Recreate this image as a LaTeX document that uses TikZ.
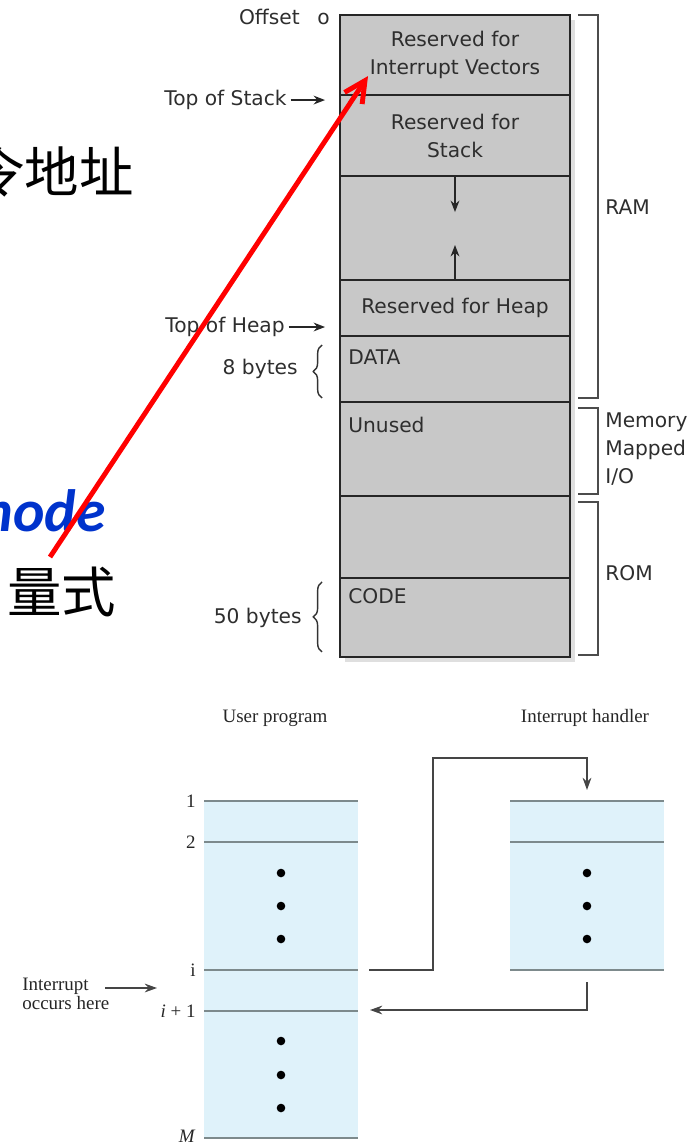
\documentclass[tikz,border=0pt]{standalone}
\usepackage{fontspec}
\setmainfont{Liberation Serif}
\newfontfamily\memfont{DejaVu Sans}
\newfontfamily\cjkfont{Noto Sans CJK SC}
\newfontfamily\slidefont{Carlito}
\usetikzlibrary{arrows.meta, positioning, calc, shadows, decorations.pathreplacing}
\definecolor{MemGray}{HTML}{C8C8C8}
\definecolor{MemText}{HTML}{2E2E2E}
\definecolor{ProgBlue}{HTML}{DFF2FA}
\definecolor{ProgLine}{HTML}{7D8A8C}
\definecolor{FlowGray}{HTML}{454545}
\definecolor{ModeBlue}{HTML}{0033CC}

\begin{document}
\begin{tikzpicture}[
    x=0.02cm, y=0.02cm,
    >=Stealth,
    memframe/.style = {rectangle, draw=black!85, fill=MemGray, line width=1.6pt, minimum width=4.6cm, outer sep=0pt, drop shadow={shadow xshift=3pt, shadow yshift=-3pt, opacity=0.25}},
    memblk/.style = {rectangle, draw=black!85, line width=1.6pt, minimum width=4.6cm, outer sep=0pt, inner sep=0pt, align=center, font=\memfont\fontsize{11.5}{16}\selectfont, text=MemText},
    memtag/.style = {anchor=north west, inner sep=0pt, font=\memfont\fontsize{11.5}{16}\selectfont, text=MemText},
    memlbl/.style = {inner sep=0pt, font=\memfont\fontsize{11.5}{16}\selectfont, text=MemText},
    bracket/.style = {draw=black!70, line width=0.9pt},
    ptr/.style = {draw=black!85, line width=0.9pt, -{Stealth[length=6.5pt, width=5pt]}},
    sizebrace/.style = {decorate, decoration={brace, amplitude=5pt}, draw=black!80, line width=0.8pt},
    cjk/.style = {inner sep=0pt, font=\cjkfont\fontsize{31}{31}\selectfont},
    prog/.style = {rectangle, fill=ProgBlue, minimum width=3.08cm, inner sep=0pt, outer sep=0pt},
    instr/.style = {draw=ProgLine, line width=1.5pt},
    progtxt/.style = {inner sep=0pt, font=\fontsize{10.8}{11}\selectfont, text=black!85},
    flow/.style = {draw=FlowGray, line width=0.8pt, -{Stealth[length=7pt, width=5pt]}},
    hint/.style = {draw=red, line width=2.8pt, -{Straight Barb[length=12pt, width=12pt]}}
  ]
  \useasboundingbox (0,0) rectangle (690,-1144);
  \clip (0,0) rectangle (690,-1144);

  % slide text behind the figures
  \node [cjk, anchor=west] (addr) at (-30,-172) {令地址};
  \node [anchor=base west, inner sep=0pt, font=\slidefont\bfseries\itshape\fontsize{34}{34}\selectfont, text=ModeBlue] (mode) at (-35,-531) {mode};
  \node [cjk, anchor=west] (style) at (7,-592) {量式};

  % memory map
  \node [memframe, minimum height=12.84cm] (mem) at (455,-336) {};
  \node [memblk, minimum height=1.6cm, below=0pt of mem.north] (ivec) {Reserved for\\Interrupt Vectors};
  \node [memblk, minimum height=1.62cm, below=0pt of ivec] (stack) {Reserved for\\Stack};
  \node [memblk, minimum height=2.08cm, below=0pt of stack] (free) {};
  \node [memblk, minimum height=1.12cm, below=0pt of free] (heap) {Reserved for Heap};
  \node [memblk, minimum height=1.32cm, below=0pt of heap] (data) {};
  \node [memblk, minimum height=1.88cm, below=0pt of data] (unused) {};
  \node [memblk, minimum height=1.64cm, below=0pt of unused] (romfree) {};
  \node [memblk, minimum height=1.58cm, below=0pt of romfree] (code) {};

  \node [memtag] (datatag) at ([xshift=0.16cm, yshift=-0.26cm]data.north west) {DATA};
  \node [memtag] (unusedtag) at ([xshift=0.16cm, yshift=-0.3cm]unused.north west) {Unused};
  \node [memtag] (codetag) at ([xshift=0.16cm, yshift=-0.2cm]code.north west) {CODE};

  \coordinate [below=0.72cm of free.north] (stackgrow);
  \coordinate [above=0.7cm of free.south] (heapgrow);
  \draw [ptr] (free.north) -- (stackgrow);
  \draw [ptr] (free.south) -- (heapgrow);

  % left side labels
  \node [memlbl, left=0.2cm of mem.north west, yshift=-0.04cm] (offset) {Offset\hspace{0.55em} o};
  \node [memlbl, anchor=east] (tos) at ([xshift=-1.06cm, yshift=-0.1cm]stack.north west) {Top of Stack};
  \coordinate (tosend) at ([xshift=-0.3cm, yshift=-0.1cm]stack.north west);
  \draw [ptr] ([xshift=2pt]tos.east) -- (tosend);
  \node [memlbl, anchor=east] (toh) at ([xshift=-1.1cm, yshift=0.18cm]data.north west) {Top of Heap};
  \coordinate (tohend) at ([xshift=-0.3cm, yshift=0.18cm]data.north west);
  \draw [ptr] ([xshift=2pt]toh.east) -- (tohend);

  \node [memlbl, anchor=east] (eight) at ([xshift=-0.84cm]data.west) {8 bytes};
  \draw [sizebrace] ([xshift=-0.36cm, yshift=0.08cm]data.south west) -- ([xshift=-0.36cm, yshift=-0.18cm]data.north west);
  \node [memlbl, anchor=east] (fifty) at ([xshift=-0.76cm]code.west) {50 bytes};
  \draw [sizebrace] ([xshift=-0.36cm, yshift=0.1cm]code.south west) -- ([xshift=-0.36cm, yshift=-0.08cm]code.north west);

  % right side brackets
  \draw [bracket] ([xshift=0.16cm]ivec.north east) -- ++(0.4cm,0) |- ([xshift=0.16cm, yshift=0.08cm]data.south east);
  \draw [bracket] ([xshift=0.16cm, yshift=-0.12cm]unused.north east) -- ++(0.4cm,0) |- ([xshift=0.16cm, yshift=0.04cm]unused.south east);
  \draw [bracket] ([xshift=0.16cm, yshift=-0.12cm]romfree.north east) -- ++(0.4cm,0) |- ([xshift=0.16cm, yshift=0.04cm]code.south east);
  \node [memlbl, anchor=west] (ram) at (605,-207) {RAM};
  \node [memlbl, anchor=west, align=left] (mmio) at ([xshift=0.7cm]unused.east) {Memory\\Mapped\\I/O};
  \node [memlbl, anchor=west] (rom) at ([xshift=0.7cm, yshift=0.1cm]code.north east) {ROM};

  % interrupt flow
  \node [progtxt] (utitle) at (275,-718) {User program};
  \node [progtxt] (htitle) at (585,-718) {Interrupt handler};
  \node [prog, minimum height=6.74cm, anchor=north west] (uprog) at (204,-801) {};
  \node [prog, minimum height=3.38cm, anchor=north west] (hand) at (510,-801) {};

  \foreach \y in {801,842,970,1011,1138}
    \draw [instr] (uprog.west |- 0,-\y) -- (uprog.east |- 0,-\y);
  \foreach \y in {801,842,970}
    \draw [instr] (hand.west |- 0,-\y) -- (hand.east |- 0,-\y);
  \foreach \y/\t in {801/1, 842/2, 970/i, 1011/\textit{i} + 1, 1136/\textit{M}}
    \node [progtxt, anchor=east] (n\y) at (196,-\y) {\t};
  \foreach \y in {873,906,939,1041,1075,1108}
    \fill (281,-\y) circle (4.3);
  \foreach \y in {873,906,939}
    \fill (587,-\y) circle (4.3);

  \coordinate (iout) at (369,-970);
  \coordinate (hin) at (587,-790);
  \coordinate (hout) at (587,-982);
  \coordinate (iret) at (370,-1010);
  \draw [flow] (iout) -| (433,-758) -| (hin);
  \draw [flow] (hout) |- (iret);

  \node [progtxt, anchor=west, align=left] (intr) at (22,-994) {Interrupt\\occurs here};
  \coordinate (ifrom) at (105,-988);
  \coordinate (ito) at (157,-988);
  \draw [flow] (ifrom) -- (ito);

  % pointer to the vector table
  \coordinate (hintfrom) at (50,-557);
  \coordinate (vecpt) at ([xshift=-1.74cm, yshift=-1.22cm]ivec.north);
  \draw [hint] (hintfrom) -- (vecpt);
\end{tikzpicture}
\end{document}
